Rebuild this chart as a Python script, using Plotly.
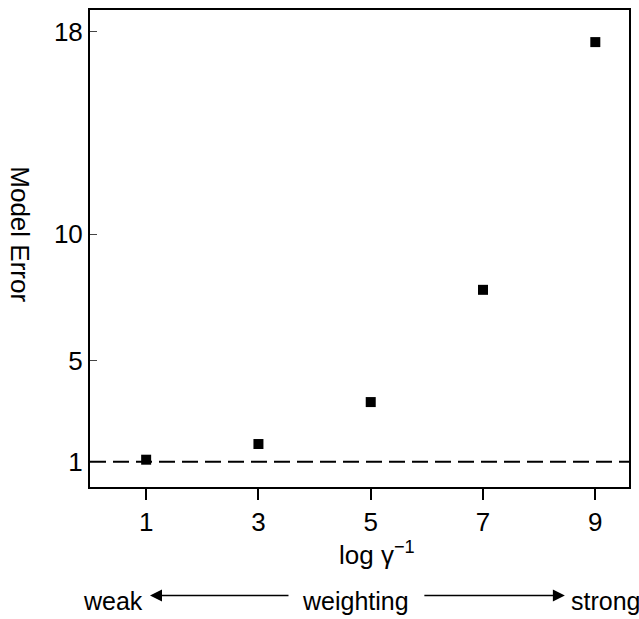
import plotly.graph_objects as go

x_vals = [1, 3, 5, 7, 9]
model_error = [1.08, 1.70, 3.36, 7.80, 17.6]
x_ticks = [1, 3, 5, 7, 9]
y_ticks = [1, 5, 10, 18]
baseline = 1

FONT = "Liberation Sans, Arial, sans-serif"
FS = 26
FSB = 25

fig = go.Figure()
fig.add_trace(go.Scatter(
    x=x_vals, y=model_error, mode="markers",
    marker=dict(symbol="square", size=10, color="black"),
    showlegend=False, cliponaxis=False,
))
fig.add_shape(type="line", xref="paper", yref="y", x0=0, x1=1, y0=baseline, y1=baseline,
              line=dict(color="black", width=2, dash="16px,7px"))

fig.update_layout(
    width=639, height=619,
    margin=dict(l=90, r=10, t=8, b=132),
    plot_bgcolor="white", paper_bgcolor="white",
    font=dict(family=FONT, size=FS, color="black"),
    xaxis=dict(range=[0, 9.6], tickvals=x_ticks, ticks="outside", ticklen=11, tickwidth=1.5,
               tickcolor="black", showline=True, linecolor="black", linewidth=2, mirror=True,
               showgrid=False, zeroline=False, tickfont=dict(size=FS)),
    yaxis=dict(range=[0, 18.87], tickvals=y_ticks, ticks="inside", ticklen=7, tickwidth=1,
               tickcolor="#444", showline=True, linecolor="black", linewidth=2, mirror=True,
               showgrid=False, zeroline=False, tickfont=dict(size=FS)),
)

ann = [
    dict(text="log γ<sup>−1</sup>", x=0.532, y=-0.14, xanchor="center", yanchor="middle", font=dict(size=FS)),
    dict(text="Model Error", x=-0.13, y=0.530, textangle=90, xanchor="center", yanchor="middle", font=dict(size=FS)),
    dict(text="weak", x=0.102, y=-0.240, xanchor="right", yanchor="middle", font=dict(size=FSB)),
    dict(text="weighting", x=0.492, y=-0.240, xanchor="center", yanchor="middle", font=dict(size=FSB)),
    dict(text="strong", x=0.888, y=-0.240, xanchor="left", yanchor="middle", font=dict(size=FSB)),
]
for a in ann:
    fig.add_annotation(xref="paper", yref="paper", showarrow=False, **a)

for head_x, dx in [(0.1113, 140), (0.881, -142)]:
    fig.add_annotation(xref="paper", yref="paper", x=head_x, y=-0.2276, ax=dx, ay=0,
                       axref="pixel", ayref="pixel", text="", showarrow=True,
                       arrowhead=2, arrowsize=1.5, arrowwidth=1.6, arrowcolor="black")

fig.write_html("out.html")
